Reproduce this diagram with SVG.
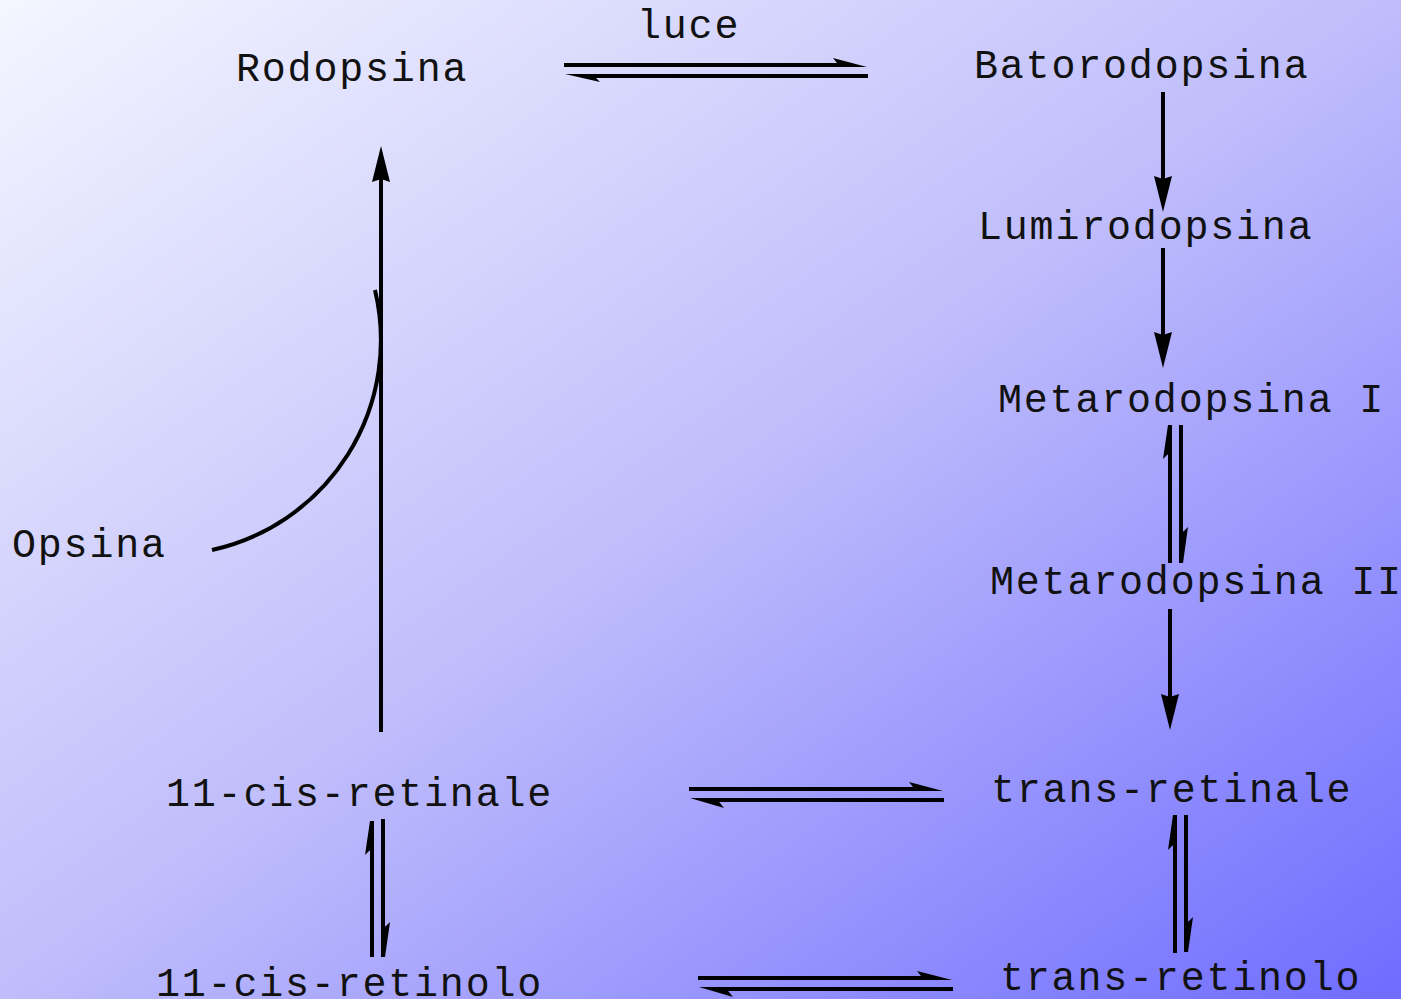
<svg xmlns="http://www.w3.org/2000/svg" width="1401" height="999" viewBox="0 0 1401 999">
<defs>
<linearGradient id="bg" x1="0" y1="0" x2="1" y2="1">
<stop offset="0" stop-color="#f4f6ff"/>
<stop offset="0.5" stop-color="#bfbdfb"/>
<stop offset="1" stop-color="#6f6cff"/>
</linearGradient>
<marker id="ah" viewBox="0 0 36 20" refX="16" refY="10" markerWidth="36" markerHeight="20" markerUnits="userSpaceOnUse" orient="auto">
<path d="M0,1 L36,10 L0,19 L3,10 z" fill="#000"/>
</marker>
<style>
text{font-family:"Liberation Mono","Courier New",monospace;font-size:40px;letter-spacing:1.8px;fill:#111;}
.ln{stroke:#000;stroke-width:4;fill:none;}
.hd{fill:#000;stroke:none;}
</style>
</defs>
<rect width="1401" height="999" fill="url(#bg)"/>
<g id="connectors">
<!-- Rodopsina <=> Batorodopsina -->
<line class="ln" x1="564" y1="65" x2="850" y2="65"/>
<polygon class="hd" points="867,67 833,58 837,63 840,67"/>
<line class="ln" x1="582" y1="76" x2="868" y2="76"/>
<polygon class="hd" points="565,74 600,82 596,78 592,74"/>
<!-- Batorodopsina -> Lumirodopsina -->
<line class="ln" x1="1163" y1="92" x2="1163" y2="192" marker-end="url(#ah)"/>
<!-- Lumirodopsina -> Metarodopsina I -->
<line class="ln" x1="1163" y1="248" x2="1163" y2="348" marker-end="url(#ah)"/>
<!-- Metarodopsina I <=> II -->
<line class="ln" x1="1170" y1="440" x2="1170" y2="563"/>
<polygon class="hd" points="1168,425 1163,459 1167,455 1172,452 1172,425"/>
<line class="ln" x1="1181" y1="425" x2="1181" y2="548"/>
<polygon class="hd" points="1183,563 1188,527 1184,531 1179,534 1179,563"/>
<!-- Metarodopsina II -> trans-retinale -->
<line class="ln" x1="1170" y1="609" x2="1170" y2="710" marker-end="url(#ah)"/>
<!-- 11-cis-retinale <=> trans-retinale -->
<line class="ln" x1="689" y1="789" x2="925" y2="789"/>
<polygon class="hd" points="943,791 909,782 913,787 916,791"/>
<line class="ln" x1="708" y1="800" x2="944" y2="800"/>
<polygon class="hd" points="690,798 724,808 720,803 716,798"/>
<!-- trans-retinale <=> trans-retinolo -->
<line class="ln" x1="1175" y1="830" x2="1175" y2="953"/>
<polygon class="hd" points="1173,815 1168,850 1172,846 1177,842 1177,815"/>
<line class="ln" x1="1186" y1="815" x2="1186" y2="936"/>
<polygon class="hd" points="1188,952 1193,917 1189,921 1184,924 1184,952"/>
<!-- 11-cis-retinale <=> 11-cis-retinolo -->
<line class="ln" x1="372" y1="836" x2="372" y2="957"/>
<polygon class="hd" points="370,821 365,855 369,851 374,848 374,821"/>
<line class="ln" x1="383" y1="819" x2="383" y2="941"/>
<polygon class="hd" points="385,957 390,922 386,926 381,929 381,957"/>
<!-- 11-cis-retinolo <=> trans-retinolo -->
<line class="ln" x1="698" y1="978" x2="934" y2="978"/>
<polygon class="hd" points="952,980 917,971 921,976 924,980"/>
<line class="ln" x1="717" y1="989" x2="953" y2="989"/>
<polygon class="hd" points="699,987 733,997 729,992 725,987"/>
<!-- 11-cis-retinale -> Rodopsina -->
<line class="ln" x1="381" y1="732" x2="381" y2="166" marker-end="url(#ah)"/>
<!-- Opsina curve -->
<path class="ln" stroke-width="3.5" d="M212,550 A215,215 0 0 0 375,290"/>
</g>
<g id="label-luce"><text x="637" y="38">luce</text></g>
<g id="node-rodopsina"><text x="236" y="81">Rodopsina</text></g>
<g id="node-batorodopsina"><text x="974" y="78">Batorodopsina</text></g>
<g id="node-lumirodopsina"><text x="978" y="239">Lumirodopsina</text></g>
<g id="node-metarodopsina1"><text x="998" y="412">Metarodopsina I</text></g>
<g id="node-metarodopsina2"><text x="990" y="594">Metarodopsina II</text></g>
<g id="node-opsina"><text x="12" y="557">Opsina</text></g>
<g id="node-11cisretinale"><text x="166" y="806">11-cis-retinale</text></g>
<g id="node-transretinale"><text x="991" y="802">trans-retinale</text></g>
<g id="node-11cisretinolo"><text x="156" y="996">11-cis-retinolo</text></g>
<g id="node-transretinolo"><text x="1000" y="990">trans-retinolo</text></g>
</svg>
